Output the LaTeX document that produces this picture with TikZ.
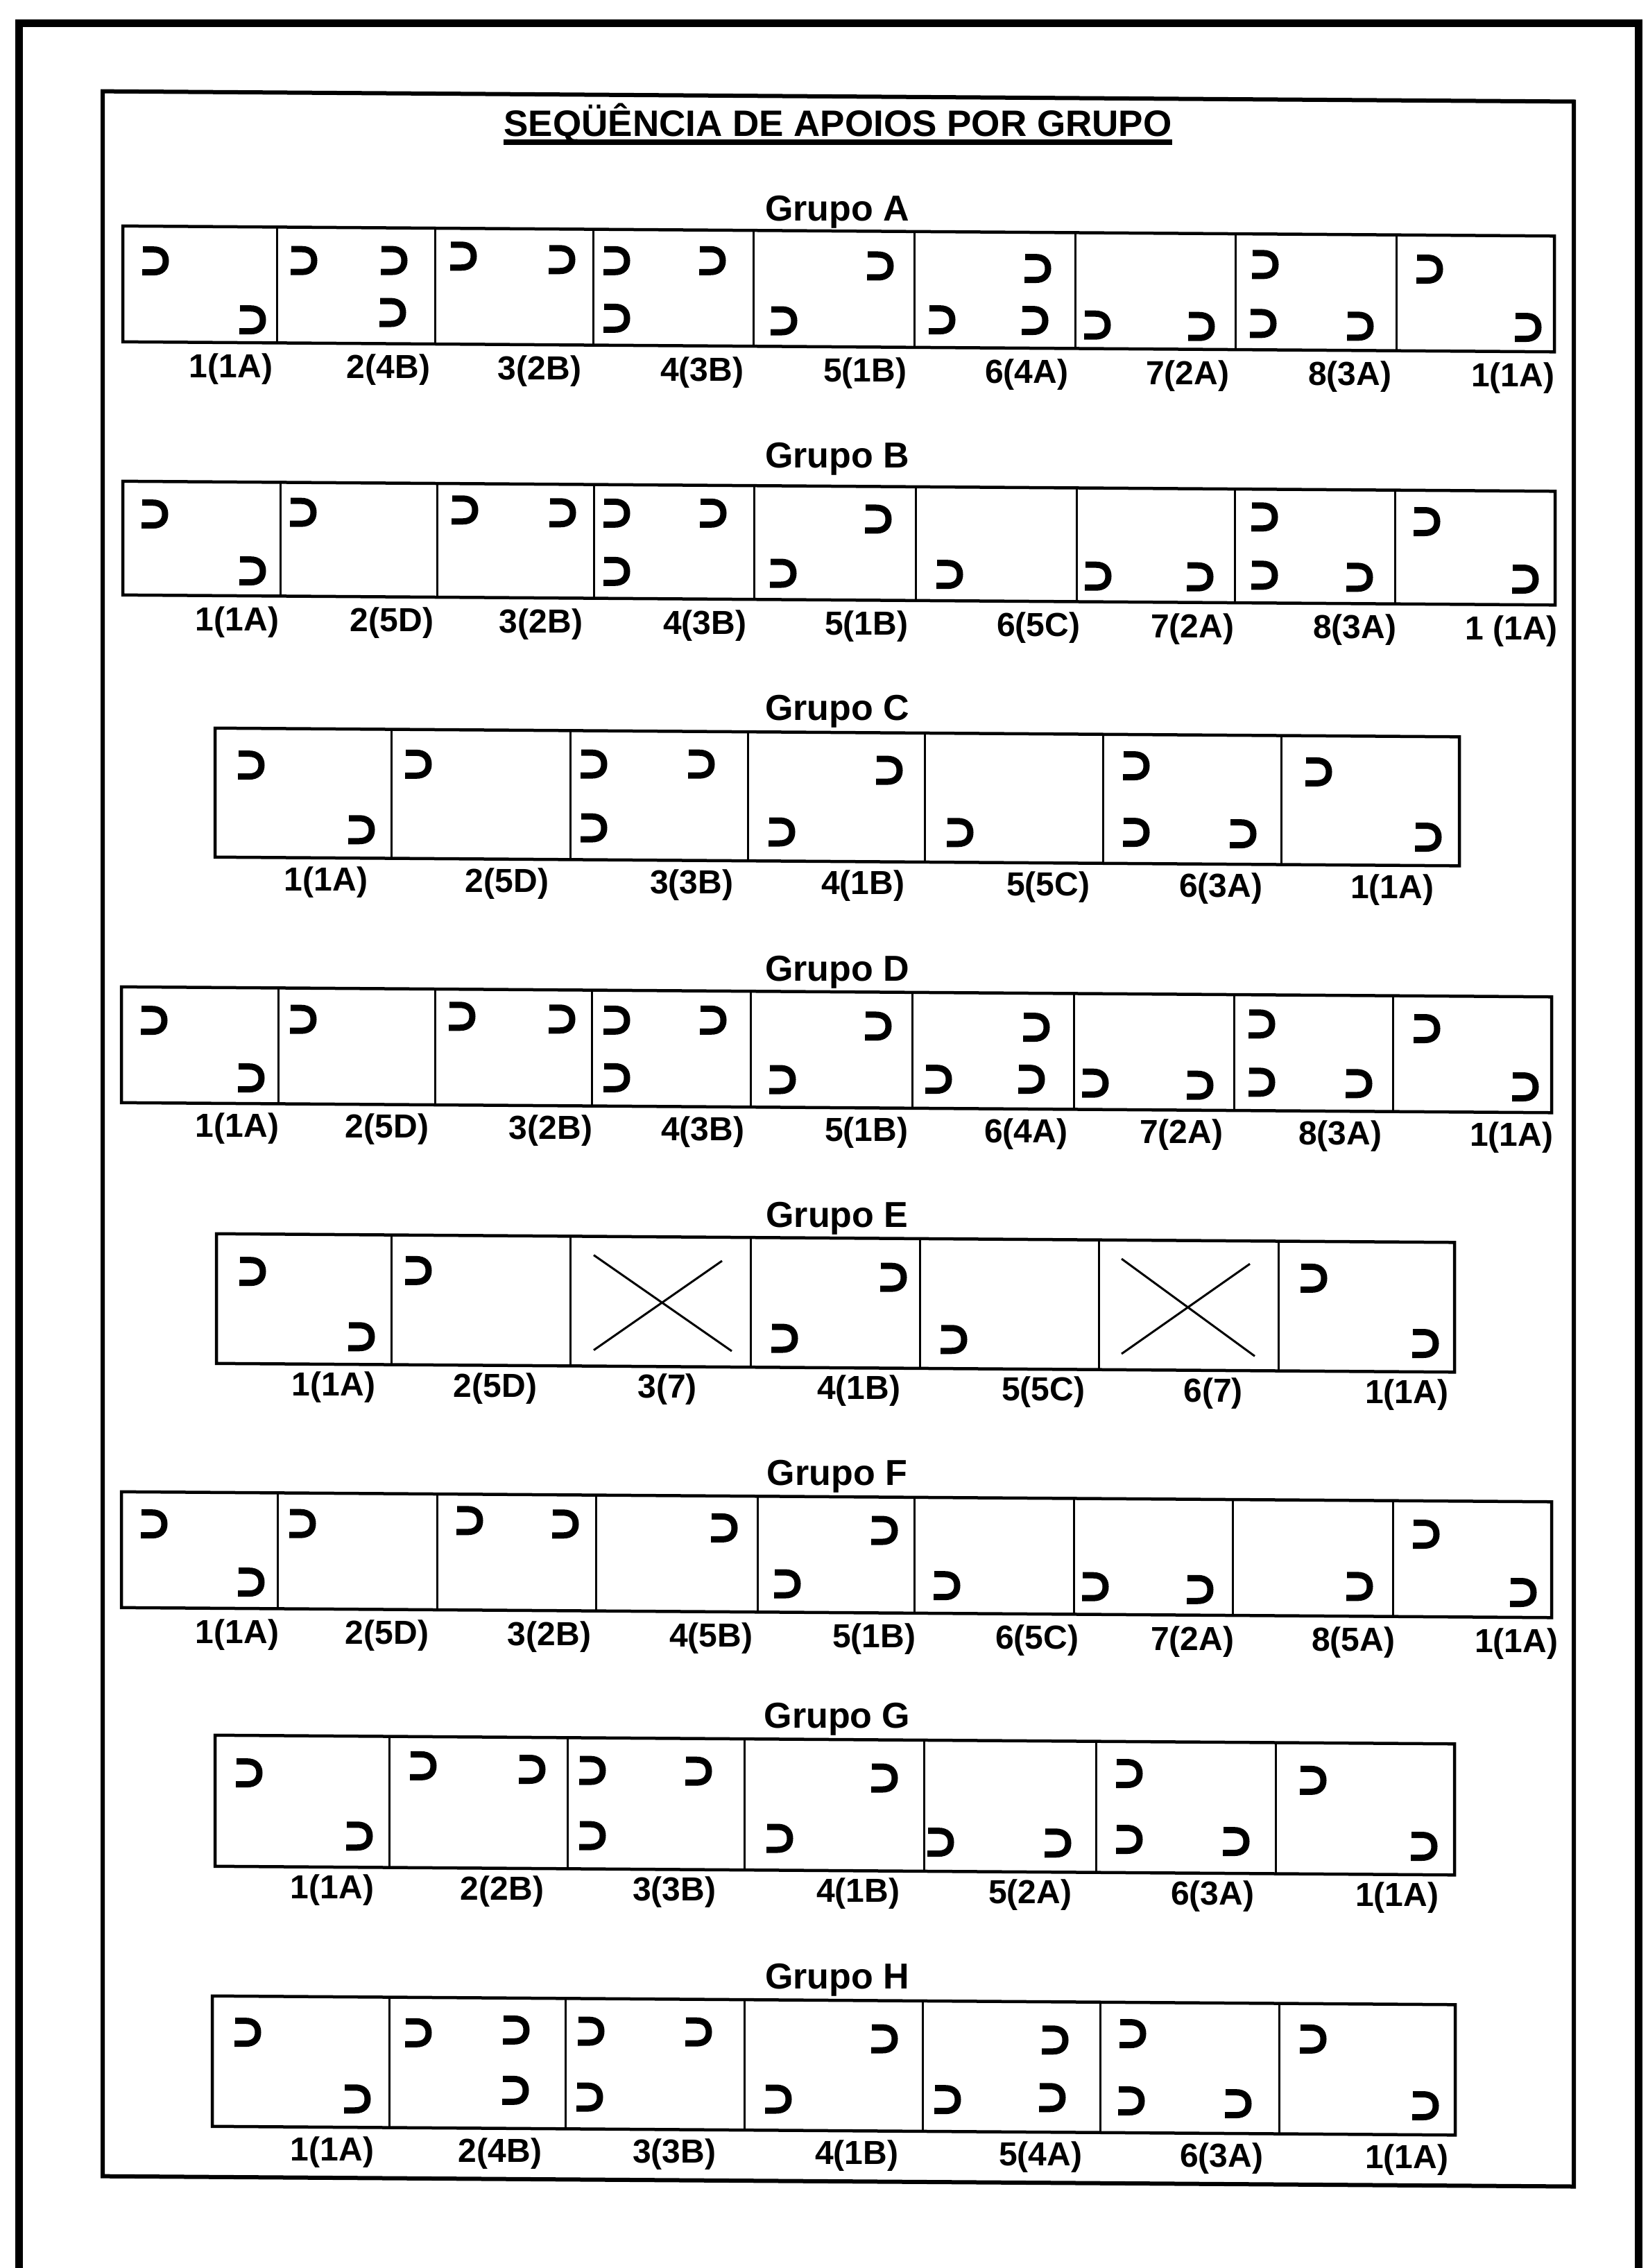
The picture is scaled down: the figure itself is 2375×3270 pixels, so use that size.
\documentclass[tikz,border=0pt]{standalone}
\usepackage{fontspec}
\setmainfont{Liberation Sans}
\begin{document}
\begin{tikzpicture}[x=1pt,y=-1pt,
  lbl/.style={font=\fontsize{48}{52}\selectfont\bfseries, inner sep=0pt},
  grp/.style={font=\fontsize{52}{56}\selectfont\bfseries, inner sep=0pt},
  ttl/.style={font=\fontsize{53}{58}\selectfont\bfseries, inner sep=0pt, anchor=base},
  rowframe/.style={line width=4.5pt},
  divider/.style={line width=3pt},
  crossline/.style={line width=3pt},
  apoio/.pic={\draw[line width=9pt] (-19,-16.5) -- (-4,-16.5) .. controls (8,-16.5) and (14,-10) .. (14,0) .. controls (14,10) and (8,16.5) .. (-4,16.5) -- (-20,16.5);}
]
\useasboundingbox (0,0) rectangle (2375,3270);
\fill[white] (0,0) rectangle (2375,3270);
% outer frame (open at the bottom)
\draw[line width=11pt] (27,3290) -- (27,34) -- (2362,34) -- (2362,3290);

\begin{scope}[cm={1,-0.007,0,1,(0pt,8.4pt)}]
% inner frame
\draw[line width=6pt] (148,139) rectangle (2269,3145);

% title
\node[ttl] (title) at (1208,196) {SEQÜÊNCIA DE APOIOS POR GRUPO};
\draw[line width=8pt] ([yshift=-9pt]title.base west) -- ([yshift=-9pt]title.base east);

% ---------------- Grupo A ----------------
\node[grp] (gA) at (1207,306) {Grupo A};
\draw[rowframe] (177,333) rectangle (2241,500);
\foreach \xx in {399,627,855,1086,1318,1550,1781,2013} \draw[divider] (\xx,333) -- (\xx,500);
\foreach \px/\py in {225/383,365/467,439/381,569/380,567/455,669/373,811/377,890/378,1028/377,890/461,1270/383,1131/463,1497/385,1359/460,1493/460,1583/466,1733/467,1825/377,1822/462,1962/465,2062/382,2204/465}
  \pic at (\px,\py) {apoio};
\foreach \lx/\lt [count=\i] in {333/1(1A),560/2(4B),778/3(2B),1012/4(3B),1247/5(1B),1480/6(4A),1712/7(2A),1946/8(3A),2181/1(1A)}
  \node[lbl] (lA\i) at (\lx,538) {\lt};

% ---------------- Grupo B ----------------
\node[grp] (gB) at (1207,662) {Grupo B};
\draw[rowframe] (177,701) rectangle (2242,865);
\foreach \xx in {404,630,856,1087,1320,1552,1780,2011} \draw[divider] (\xx,701) -- (\xx,865);
\foreach \px/\py in {224/748,365/829,438/744,671/739,812/742,890/742,1029/741,890/826,1267/748,1130/827,1370/827,1584/828,1731/828,1824/741,1824/825,1961/827,2058/746,2200/828}
  \pic at (\px,\py) {apoio};
\foreach \lx/\lt [count=\i] in {342/1(1A),565/2(5D),780/3(2B),1016/4(3B),1249/5(1B),1497/6(5C),1719/7(2A),1953/8(3A),2179/1 (1A)}
  \node[lbl] (lB\i) at (\lx,903) {\lt};

% ---------------- Grupo C ----------------
\node[grp] (gC) at (1207,1026) {Grupo C};
\draw[rowframe] (310,1056) rectangle (2104,1242);
\foreach \xx in {564,822,1078,1333,1590,1847} \draw[divider] (\xx,1056) -- (\xx,1242);
\foreach \px/\py in {363/1109,522/1201,604/1106,857/1104,1012/1103,857/1196,1283/1110,1128/1200,1385/1199,1639/1101,1639/1197,1793/1198,1902/1108,2060/1201}
  \pic at (\px,\py) {apoio};
\foreach \lx/\lt [count=\i] in {470/1(1A),731/2(5D),997/3(3B),1244/4(1B),1511/5(5C),1760/6(3A),2007/1(1A)}
  \node[lbl] (lC\i) at (\lx,1277) {\lt};

% ---------------- Grupo D ----------------
\node[grp] (gD) at (1207,1402) {Grupo D};
\draw[rowframe] (175,1430) rectangle (2237,1597);
\foreach \xx in {401,627,853,1082,1315,1548,1779,2008} \draw[divider] (\xx,1430) -- (\xx,1597);
\foreach \px/\py in {223/1478,363/1560,438/1475,667/1469,811/1472,890/1473,1029/1472,890/1556,1267/1479,1129/1557,1495/1479,1354/1555,1488/1554,1580/1559,1731/1561,1820/1472,1820/1556,1960/1557,2058/1477,2200/1560}
  \pic at (\px,\py) {apoio};
\foreach \lx/\lt [count=\i] in {342/1(1A),558/2(5D),794/3(2B),1013/4(3B),1249/5(1B),1479/6(4A),1703/7(2A),1932/8(3A),2179/1(1A)}
  \node[lbl] (lD\i) at (\lx,1633) {\lt};

% ---------------- Grupo E ----------------
\node[grp] (gE) at (1207,1757) {Grupo E};
\draw[rowframe] (312,1785) rectangle (2097,1972);
\foreach \xx in {564,822,1082,1326,1584,1843} \draw[divider] (\xx,1785) -- (\xx,1972);
\foreach \px/\py in {365/1839,522/1932,604/1836,1289/1841,1132/1930,1376/1930,1895/1838,2056/1931}
  \pic at (\px,\py) {apoio};
\draw[crossline] (856,1812) -- (1055,1949);
\draw[crossline] (1041,1819) -- (856,1949);
\draw[crossline] (1617,1812) -- (1809,1951);
\draw[crossline] (1802,1818) -- (1617,1949);
\foreach \lx/\lt [count=\i] in {481/1(1A),714/2(5D),962/3(7),1238/4(1B),1504/5(5C),1749/6(7),2028/1(1A)}
  \node[lbl] (lE\i) at (\lx,2005) {\lt};

% ---------------- Grupo F ----------------
\node[grp] (gF) at (1207,2129) {Grupo F};
\draw[rowframe] (175,2158) rectangle (2237,2325);
\foreach \xx in {400,630,859,1092,1318,1548,1777,2008} \draw[divider] (\xx,2158) -- (\xx,2325);
\foreach \px/\py in {223/2204,363/2287,437/2202,678/2196,816/2200,1045/2204,1276/2206,1136/2284,1366/2285,1580/2285,1731/2288,1961/2282,2057/2206,2197/2289}
  \pic at (\px,\py) {apoio};
\foreach \lx/\lt [count=\i] in {342/1(1A),558/2(5D),792/3(2B),1025/4(5B),1260/5(1B),1495/6(5C),1719/7(2A),1951/8(5A),2186/1(1A)}
  \node[lbl] (lF\i) at (\lx,2363) {\lt};

% ---------------- Grupo G ----------------
\node[grp] (gG) at (1207,2479) {Grupo G};
\draw[rowframe] (310,2508) rectangle (2097,2697);
\foreach \xx in {561,818,1073,1332,1580,1839} \draw[divider] (\xx,2508) -- (\xx,2697);
\foreach \px/\py in {360/2562,519/2652,611/2550,768/2554,855/2555,1008/2555,855/2649,1276/2563,1125/2651,1357/2655,1526/2655,1629/2554,1629/2649,1783/2651,1894/2562,2054/2656}
  \pic at (\px,\py) {apoio};
\foreach \lx/\lt [count=\i] in {479/1(1A),724/2(2B),972/3(3B),1237/4(1B),1485/5(2A),1748/6(3A),2014/1(1A)}
  \node[lbl] (lG\i) at (\lx,2730) {\lt};

% ---------------- Grupo H ----------------
\node[grp] (gH) at (1207,2855) {Grupo H};
\draw[rowframe] (306,2884) rectangle (2098,3072);
\foreach \xx in {561,815,1073,1330,1586,1844} \draw[divider] (\xx,2884) -- (\xx,3072);
\foreach \px/\py in {358/2936,516/3031,604/2935,745/2930,744/3017,853/2931,1008/2931,851/3026,1276/2939,1123/3027,1522/2939,1367/3026,1518/3022,1634/2929,1632/3026,1786/3029,1894/2935,2056/3030}
  \pic at (\px,\py) {apoio};
\foreach \lx/\lt [count=\i] in {479/1(1A),721/2(4B),972/3(3B),1235/4(1B),1500/5(4A),1761/6(3A),2028/1(1A)}
  \node[lbl] (lH\i) at (\lx,3108) {\lt};
\end{scope}
\end{tikzpicture}
\end{document}
